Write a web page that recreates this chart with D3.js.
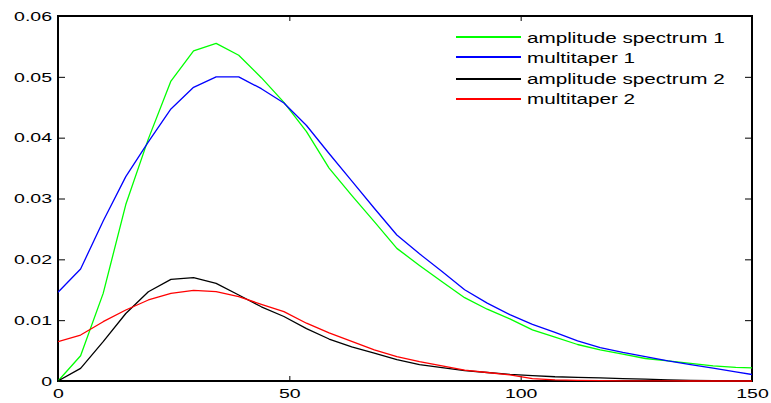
<!DOCTYPE html>
<html>
<head>
<meta charset="utf-8">
<script src="https://cdn.jsdelivr.net/npm/d3@7"></script>
<style>
  html, body { margin: 0; padding: 0; background: #fff; }
  svg { display: block; }
  text { font-family: Arial, "Liberation Sans", Helvetica, sans-serif; fill: #000; }
</style>
</head>
<body>
<svg id="chart" width="771" height="403"></svg>
<script>
// Frequency bins (Hz)
const freqs = [0, 4.883, 9.766, 14.65, 19.53, 24.41, 29.30, 34.18, 39.06, 43.95, 48.83,
  53.71, 58.59, 63.48, 68.36, 73.24, 78.13, 83.01, 87.89, 92.77, 97.66,
  102.54, 107.42, 112.30, 117.19, 122.07, 126.95, 131.84, 136.72, 141.60, 146.48, 151.37];

const ampSpectrum1 = [0, 0.00416, 0.0144, 0.0290, 0.0398, 0.0493, 0.05425, 0.0555, 0.05354, 0.04986, 0.0458,
  0.0410, 0.0350, 0.0305, 0.0262, 0.0218, 0.0190, 0.0163, 0.0137, 0.0118, 0.0102,
  0.0084, 0.0072, 0.0060, 0.0051, 0.0044, 0.0037, 0.0033, 0.0029, 0.0025, 0.00225, 0.0021];

const multitaper1 = [0.01458, 0.01841, 0.0263, 0.0336, 0.0393, 0.04472, 0.04828, 0.0500, 0.0500, 0.04805, 0.0457,
  0.0420, 0.0374, 0.0329, 0.0284, 0.0240, 0.0209, 0.0180, 0.0150, 0.0128, 0.0109,
  0.0093, 0.0080, 0.0066, 0.0055, 0.0047, 0.0040, 0.0033, 0.0027, 0.0021, 0.0015, 0.0009];

const ampSpectrum2 = [0, 0.00208, 0.00646, 0.0111, 0.01468, 0.01671, 0.01699, 0.01606, 0.01414, 0.0122, 0.0106,
  0.0086, 0.0069, 0.0056, 0.0046, 0.0035, 0.0027, 0.0022, 0.0017, 0.0014, 0.0011,
  0.0009, 0.0007, 0.0006, 0.0005, 0.0004, 0.0003, 0.0002, 0.0001, 0.00005, 0, 0];

const multitaper2 = [0.00646, 0.00756, 0.00975, 0.01167, 0.01332, 0.01442, 0.01491, 0.01468, 0.01386, 0.0126, 0.0114,
  0.0095, 0.0079, 0.0065, 0.0051, 0.0040, 0.0032, 0.0025, 0.0018, 0.0014, 0.0010,
  0.0004, 0.0002, 0.0001, 0.00005, 0.00003, 0.00002, 0.00001, 0, 0, 0, 0];

const seriesNames = ["amplitude spectrum 1", "multitaper 1", "amplitude spectrum 2", "multitaper 2"];
const seriesColors = ["#00ff00", "#0000ff", "#000000", "#ff0000"];
const seriesValues = [ampSpectrum1, multitaper1, ampSpectrum2, multitaper2];

const xTicks = [0, 50, 100, 150];
const yTicks = [0, 0.01, 0.02, 0.03, 0.04, 0.05, 0.06];

const svg = d3.select("#chart");
const plot = { left: 58, top: 16, right: 752, bottom: 381 };

const x = d3.scaleLinear().domain([0, 150]).range([plot.left, plot.right]);
const y = d3.scaleLinear().domain([0, 0.06]).range([plot.bottom, plot.top]);

const fmtY = v => v === 0 ? "0" : d3.format(".2f")(v);
const txScaleTick = 1.5;
const txScaleLegend = 1.38;

// Axes (inward ticks on all four sides)
const axLeft = svg.append("g").attr("transform", `translate(${plot.left},0)`)
  .call(d3.axisLeft(y).tickValues(yTicks).tickFormat(fmtY).tickSizeInner(-7).tickSizeOuter(0).tickPadding(6));
const axRight = svg.append("g").attr("transform", `translate(${plot.right},0)`)
  .call(d3.axisRight(y).tickValues(yTicks).tickFormat("").tickSizeInner(-7).tickSizeOuter(0));
const axBottom = svg.append("g").attr("transform", `translate(0,${plot.bottom})`)
  .call(d3.axisBottom(x).tickValues(xTicks).tickFormat(d3.format("d")).tickSizeInner(-5).tickSizeOuter(0).tickPadding(8));
const axTop = svg.append("g").attr("transform", `translate(0,${plot.top})`)
  .call(d3.axisTop(x).tickValues(xTicks).tickFormat("").tickSizeInner(-5).tickSizeOuter(0));

[axLeft, axRight, axBottom, axTop].forEach(g => {
  g.select(".domain").remove();
  g.selectAll(".tick line").attr("stroke", "#000").attr("stroke-width", 1);
});

axLeft.selectAll(".tick text")
  .attr("font-size", 13)
  .attr("x", -6 / txScaleTick)
  .attr("transform", `scale(${txScaleTick},1)`);
axBottom.selectAll(".tick text")
  .attr("font-size", 13)
  .attr("transform", `scale(${txScaleTick},1)`);
svg.selectAll(".tick text").attr("font-family", null);
svg.selectAll("g").attr("font-family", null).attr("font-size", null);

// Box
svg.append("rect")
  .attr("x", plot.left).attr("y", plot.top)
  .attr("width", plot.right - plot.left).attr("height", plot.bottom - plot.top)
  .attr("fill", "none").attr("stroke", "#000").attr("stroke-width", 2);

// Curves, clipped to the axes area
svg.append("clipPath").attr("id", "plotClip").append("rect")
  .attr("x", plot.left).attr("y", plot.top - 1)
  .attr("width", plot.right - plot.left).attr("height", plot.bottom - plot.top + 2);

const line = d3.line().x(d => x(d[0])).y(d => y(d[1]));
const curves = svg.append("g").attr("clip-path", "url(#plotClip)");
seriesValues.forEach((vals, i) => {
  curves.append("path")
    .datum(freqs.map((f, k) => [f, vals[k]]))
    .attr("d", line)
    .attr("fill", "none")
    .attr("stroke", seriesColors[i])
    .attr("stroke-width", 1.3)
    .attr("stroke-linejoin", "round");
});

// Legend: swatches on whole-pixel rows, labels on an even 20.4px pitch
const swatchY = [37, 57, 79, 99];
const labelY = [43, 63.4, 83.8, 104.2];
const legend = svg.append("g").attr("transform", "translate(456,0)");
seriesNames.forEach((name, i) => {
  legend.append("line")
    .attr("x1", 0).attr("x2", 65).attr("y1", swatchY[i]).attr("y2", swatchY[i])
    .attr("stroke", seriesColors[i]).attr("stroke-width", 2);
  legend.append("text")
    .attr("x", 71 / txScaleLegend).attr("y", labelY[i])
    .attr("font-size", 15)
    .attr("transform", `scale(${txScaleLegend},1)`)
    .text(name);
});
</script>
</body>
</html>
